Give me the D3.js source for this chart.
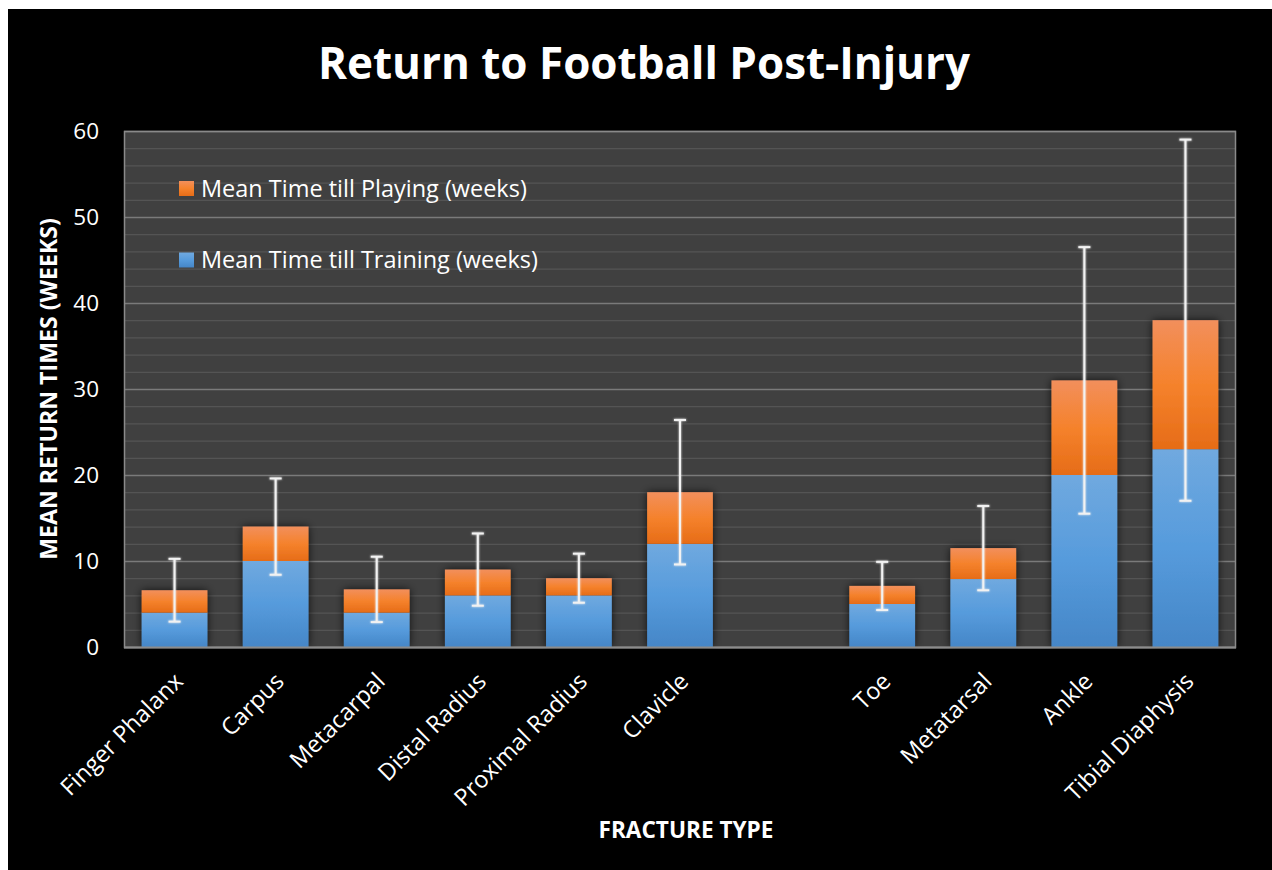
<!DOCTYPE html>
<html><head><meta charset="utf-8">
<script src="https://cdn.jsdelivr.net/npm/d3@7"></script>
<style>
body{margin:0;background:#fff;}
svg{display:block;}
text{font-family:"Open Sans",sans-serif;fill:#fff;}
</style>
</head><body>
<svg id="c" width="1272" height="870"></svg>
<script>
// ---- data ----
const categories = ["Finger Phalanx","Carpus","Metacarpal","Distal Radius","Proximal Radius","Clavicle","","Toe","Metatarsal","Ankle","Tibial Diaphysis"];
const trainingWeeks = [4, 10, 4, 6, 6, 12, null, 5, 7.9, 20, 23];
const playingWeeks  = [6.6, 14, 6.7, 9, 8, 18, null, 7.1, 11.5, 31, 38];
const playingError  = [3.65, 5.6, 3.8, 4.2, 2.85, 8.4, null, 2.8, 4.9, 15.5, 21];
const yTicks = [0, 10, 20, 30, 40, 50, 60];
const seriesNames = ["Mean Time till Playing (weeks)", "Mean Time till Training (weeks)"];
const chartTitle = "Return to Football Post-Injury";
const xTitle = "FRACTURE TYPE";
const yTitle = "MEAN RETURN TIMES (WEEKS)";

// ---- layout ----
const W = 1272, H = 870;
const m = {l:124, t:131, r:1236, b:647};
const svg = d3.select("#c");

function fit(sel, w){
  const L = sel.node().getComputedTextLength();
  const fs = parseFloat(sel.attr("font-size"));
  sel.attr("font-size", fs * w / L);
  return fs * w / L;
}

svg.append("rect").attr("x",8).attr("y",9).attr("width",W-8).attr("height",H-9).attr("fill","#000");

const defs = svg.append("defs");
function grad(id, c1, c2, c3){
  const g = defs.append("linearGradient").attr("id",id).attr("x1",0).attr("y1",0).attr("x2",0).attr("y2",1);
  g.append("stop").attr("offset","0%").attr("stop-color",c1);
  g.append("stop").attr("offset","50%").attr("stop-color",c2);
  g.append("stop").attr("offset","100%").attr("stop-color",c3);
}
grad("gBlue", "#70a9df", "#569bdc", "#4586c7");
grad("gOrange", "#f28f5c", "#f5822c", "#e66c17");
const f = defs.append("filter").attr("id","sh").attr("x","-30%").attr("y","-10%").attr("width","160%").attr("height","120%");
f.append("feDropShadow").attr("dx",0).attr("dy",0).attr("stdDeviation",4).attr("flood-color","#000").attr("flood-opacity",0.75);
const gl = defs.append("filter").attr("id","glow").attr("x","-50%").attr("y","-5%").attr("width","200%").attr("height","110%");
gl.append("feGaussianBlur").attr("stdDeviation",1).attr("result","b");
const mg = gl.append("feMerge");
mg.append("feMergeNode").attr("in","b");
mg.append("feMergeNode").attr("in","SourceGraphic");

const x = d3.scaleBand().domain(categories.map((c,i)=>i)).range([m.l, m.r]).paddingInner(0.35).paddingOuter(0.175);
const y = d3.scaleLinear().domain([0, 60]).range([m.b, m.t]);

// plot background
svg.append("rect").attr("x",m.l).attr("y",m.t).attr("width",m.r-m.l).attr("height",m.b-m.t).attr("fill","#404040");

// gridlines
const gridVals = d3.range(0, 61, 2);
svg.append("g").selectAll("line").data(gridVals).join("line")
  .attr("x1",m.l).attr("x2",m.r)
  .attr("y1",d=>y(d)+0.5).attr("y2",d=>y(d)+0.5)
  .attr("stroke",d=>d%10===0 ? "#7a7a7a" : "#545454")
  .attr("stroke-width",d=>d%10===0 ? 1.5 : 1.2);

// plot border
svg.append("rect").attr("x",m.l+0.5).attr("y",m.t+0.5).attr("width",m.r-m.l-1).attr("height",m.b-m.t).attr("fill","none").attr("stroke","#8a8a8a").attr("stroke-width",1.5);

// bars
const idx = categories.map((c,i)=>i).filter(i=>trainingWeeks[i]!==null);
const bars = svg.append("g").attr("filter","url(#sh)");
bars.selectAll("rect.t").data(idx).join("rect").attr("class","t")
  .attr("x",i=>x(i)).attr("width",x.bandwidth())
  .attr("y",i=>y(trainingWeeks[i])).attr("height",i=>y(0)-y(trainingWeeks[i]))
  .attr("fill","url(#gBlue)");
bars.selectAll("rect.p").data(idx).join("rect").attr("class","p")
  .attr("x",i=>x(i)).attr("width",x.bandwidth())
  .attr("y",i=>y(playingWeeks[i])).attr("height",i=>y(trainingWeeks[i])-y(playingWeeks[i]))
  .attr("fill","url(#gOrange)");

// x axis line
svg.append("line").attr("x1",m.l).attr("x2",m.r).attr("y1",m.b+0.5).attr("y2",m.b+0.5).attr("stroke","#8c8c8c").attr("stroke-width",2);

// error bars
const eb = svg.append("g").attr("stroke","#f2f2f2").attr("stroke-width",2).attr("filter","url(#glow)");
idx.forEach(i=>{
  const cx = x(i) + x.bandwidth()/2;
  const hi = y(playingWeeks[i] + playingError[i]);
  const lo = y(playingWeeks[i] - playingError[i]);
  eb.append("line").attr("x1",cx).attr("x2",cx).attr("y1",hi).attr("y2",lo);
  eb.append("line").attr("x1",cx-6).attr("x2",cx+6).attr("y1",hi).attr("y2",hi);
  eb.append("line").attr("x1",cx-6).attr("x2",cx+6).attr("y1",lo).attr("y2",lo);
});

// y axis
const ya = svg.append("g").attr("transform",`translate(${m.l},0)`)
  .call(d3.axisLeft(y).tickValues(yTicks).tickSize(0).tickPadding(25));
ya.select(".domain").remove();
ya.selectAll("text").attr("font-size",22.5).attr("fill","#fff").attr("font-family","'Open Sans',sans-serif");

// x axis labels
const xa = svg.append("g").attr("transform",`translate(0,${m.b})`)
  .call(d3.axisBottom(x).tickFormat(i=>categories[i]).tickSize(0));
xa.select(".domain").remove();
xa.selectAll("text")
  .attr("font-size",23.5).attr("fill","#fff").attr("font-family","'Open Sans',sans-serif")
  .attr("x",0).attr("y",0).attr("dy","0.35em")
  .attr("text-anchor","end")
  .attr("transform","translate(4,30) rotate(-45)");

// legend
const legY = [188.5, 260];
const leg = svg.append("g");
let legFs = null;
seriesNames.forEach((n,k)=>{
  leg.append("rect").attr("x",179).attr("y",legY[k]-7.5).attr("width",15).attr("height",15)
    .attr("fill", k===0 ? "url(#gOrange)" : "url(#gBlue)");
  const t = leg.append("text").attr("x",201).attr("y",legY[k]).attr("dy","0.35em").attr("font-size",22).text(n);
  if(k===0) legFs = fit(t, 326); else t.attr("font-size", legFs);
});

// titles
const tt = svg.append("text").attr("x",644).attr("y",64).attr("dy","0.35em").attr("text-anchor","middle")
  .attr("font-weight","bold").attr("font-size",44).text(chartTitle);
fit(tt, 652);
const xt = svg.append("text").attr("x",686).attr("y",830).attr("dy","0.35em").attr("text-anchor","middle")
  .attr("font-weight","bold").attr("font-size",20).text(xTitle);
fit(xt, 175);
const yt = svg.append("text").attr("transform","translate(49,389) rotate(-90)").attr("dy","0.35em").attr("text-anchor","middle")
  .attr("font-weight","bold").attr("font-size",20).text(yTitle);
fit(yt, 342);
</script>
</body></html>
